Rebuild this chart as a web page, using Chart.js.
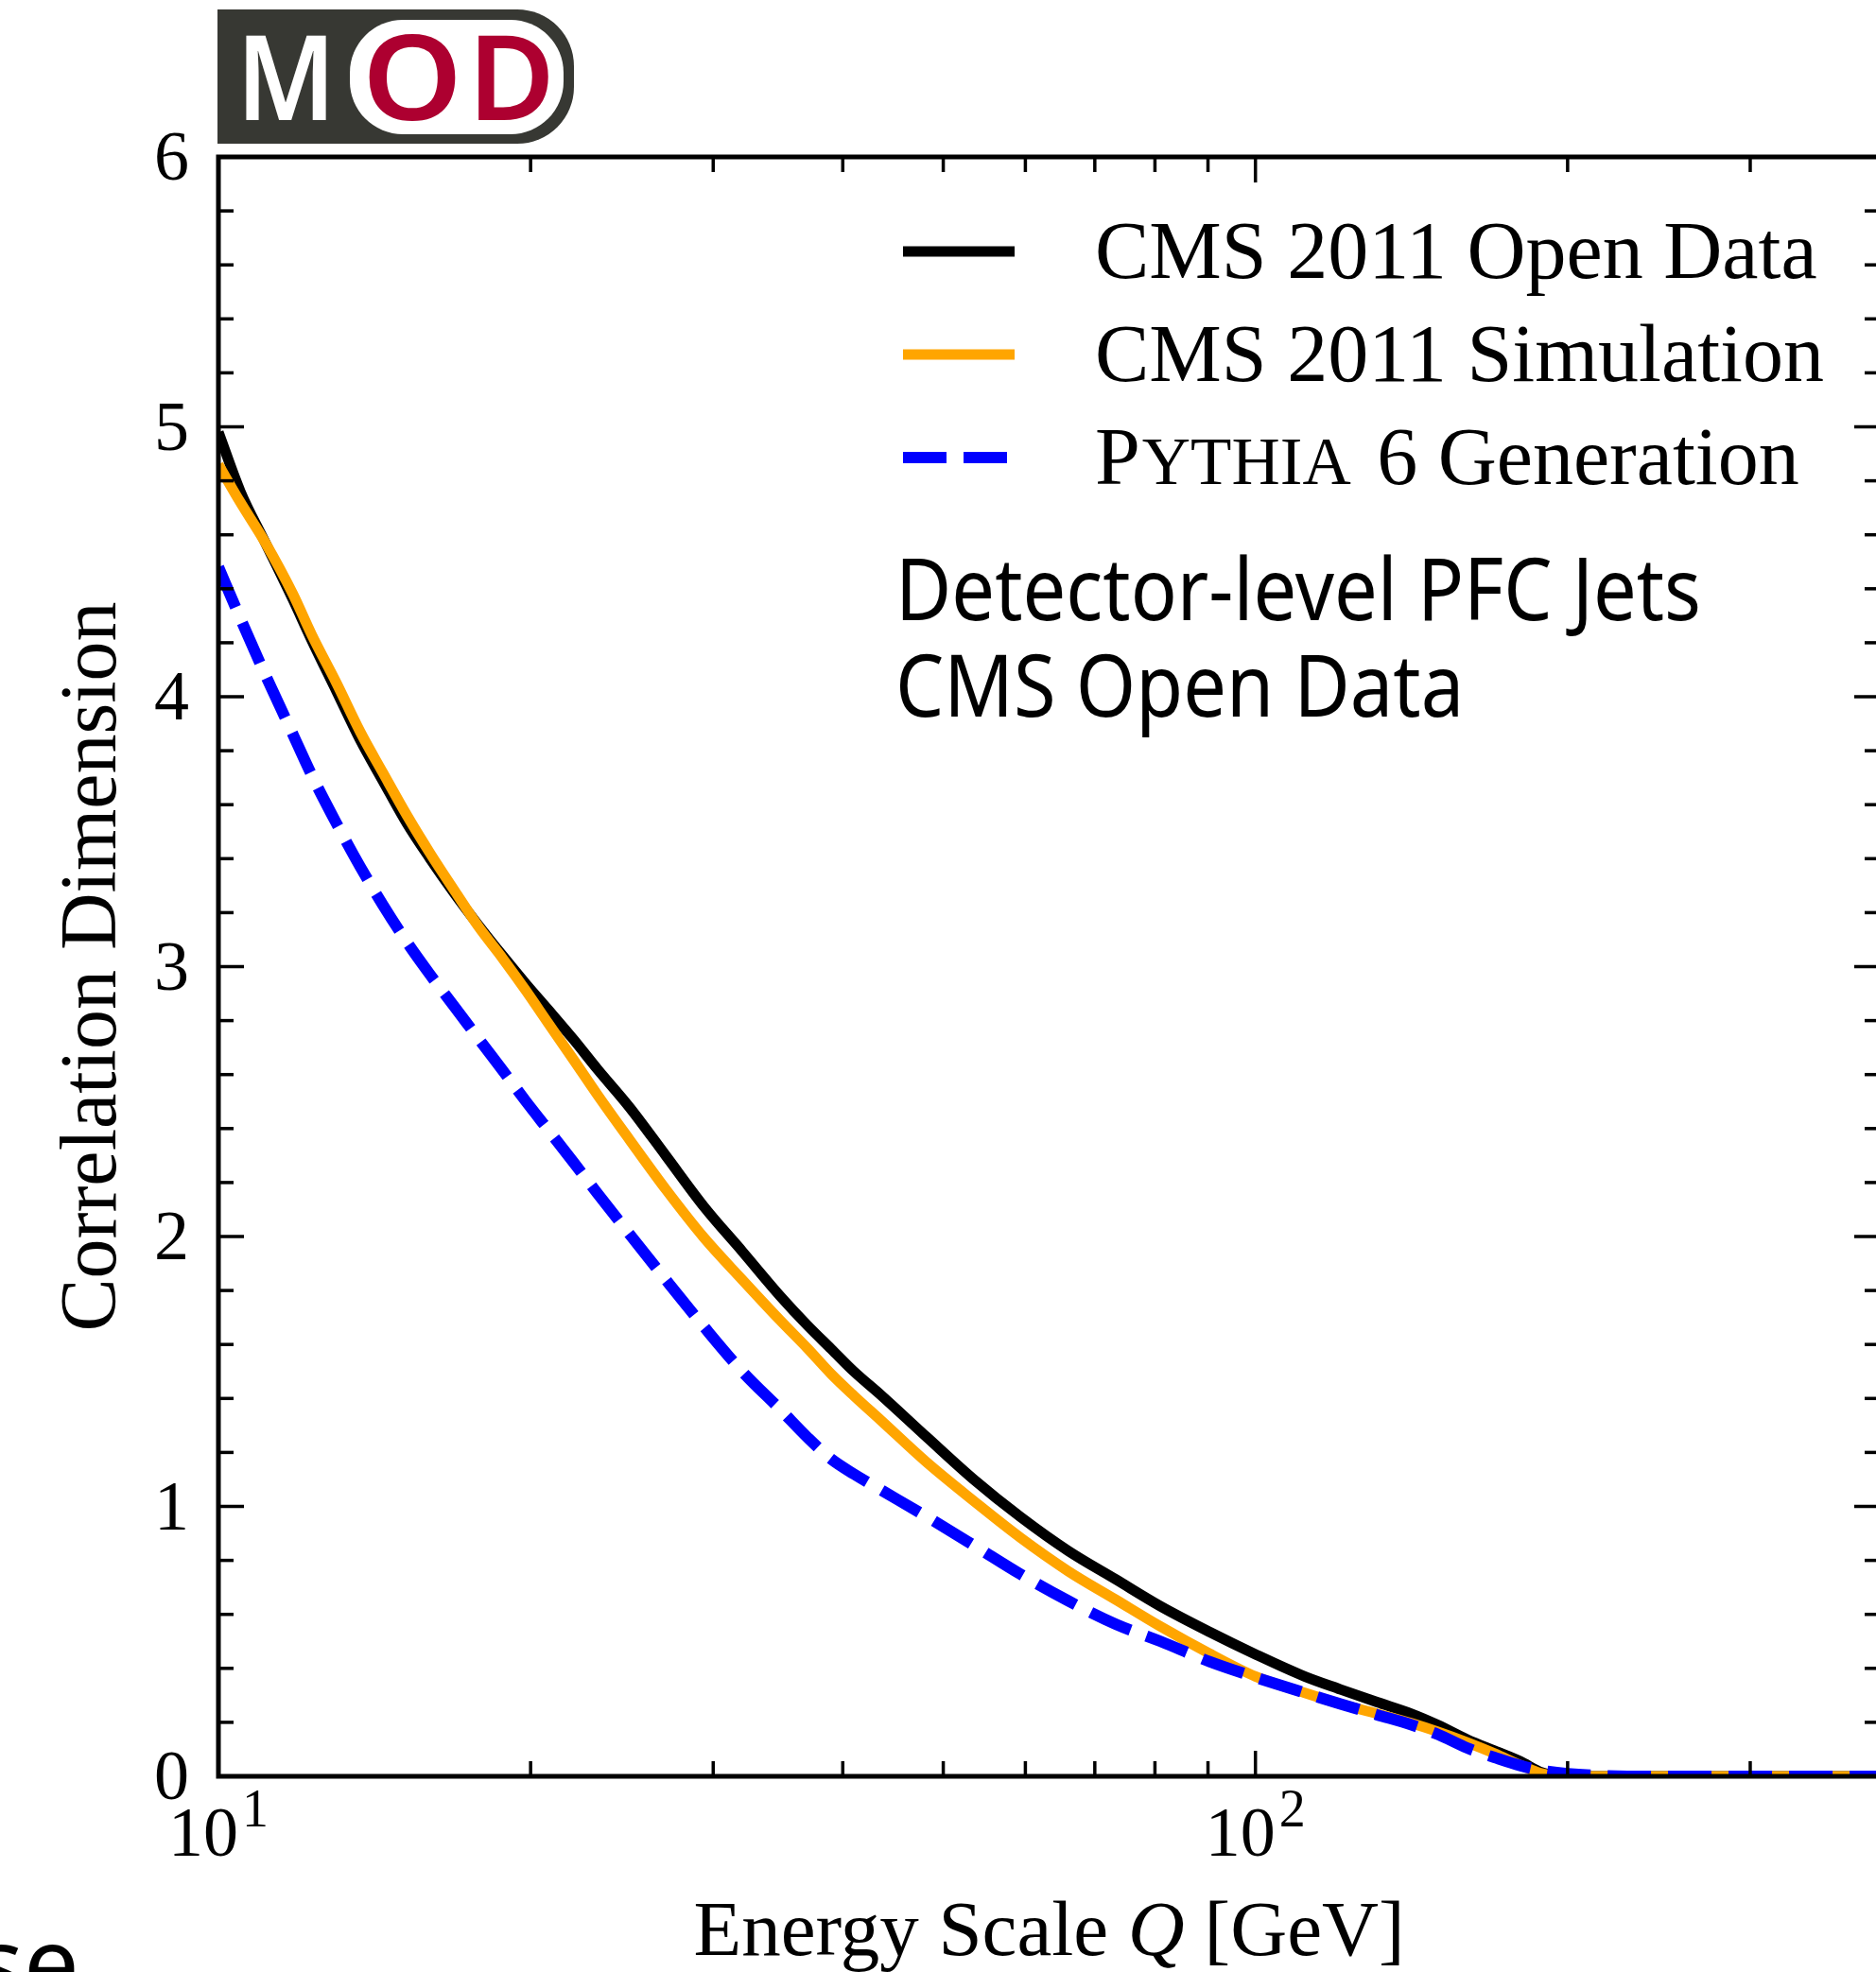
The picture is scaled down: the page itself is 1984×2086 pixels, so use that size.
<!DOCTYPE html>
<html lang="en">
<head>
<meta charset="UTF-8">
<title>Correlation Dimension vs Energy Scale</title>
<script src="https://cdn.jsdelivr.net/npm/chart.js@4.4.1/dist/chart.umd.min.js"></script>
<style>
    html, body { margin: 0; padding: 0; background: #fff; overflow: hidden; }
    #wrap { position: absolute; left: 0; top: 0; width: 1992px; height: 2086px; }
</style>
</head>
<body>
<div id="wrap"><canvas id="chart" width="1992" height="2086"></canvas></div>
<script>
// Energy scale Q [GeV], shared by all three curves
const energyQ = [10, 10.5, 11.1, 11.8, 12.3, 13.0, 13.7, 14.4, 15.2, 16.0, 16.9, 17.8, 18.8, 19.8, 20.8, 22.0,
    23.2, 24.9, 27.0, 29.4, 32.0, 34.8, 37.0, 39.0, 41.0, 43.5, 48.2, 53.5, 59.4, 66.0, 73.3, 81.0, 90.3, 100,
    111.4, 120.8, 131, 141.6, 150, 160, 170, 180, 189, 200, 215, 240, 300, 400];

const openData = [4.98, 4.76, 4.57, 4.36, 4.21, 4.02, 3.84, 3.69, 3.53, 3.40, 3.27, 3.155, 3.04, 2.935, 2.84, 2.73,
    2.62, 2.48, 2.30, 2.11, 1.945, 1.78, 1.67, 1.583, 1.50, 1.414, 1.257, 1.10, 0.96, 0.835, 0.73, 0.63, 0.535, 0.452,
    0.371, 0.322, 0.275, 0.231, 0.19, 0.137, 0.095, 0.056, 0.014, 0, 0, 0, 0, 0];

const simulation = [4.86, 4.72, 4.57, 4.38, 4.23, 4.05, 3.87, 3.72, 3.56, 3.42, 3.28, 3.15, 3.03, 2.91, 2.79, 2.655,
    2.525, 2.36, 2.175, 1.995, 1.84, 1.69, 1.585, 1.49, 1.41, 1.32, 1.163, 1.02, 0.883, 0.76, 0.655, 0.555, 0.455, 0.37,
    0.31, 0.268, 0.232, 0.196, 0.165, 0.126, 0.085, 0.042, 0.01, 0, 0, 0, 0, 0];

const pythia = [4.48, 4.29, 4.08, 3.86, 3.71, 3.53, 3.37, 3.23, 3.09, 2.97, 2.85, 2.735, 2.615, 2.50, 2.395, 2.275,
    2.16, 2.01, 1.84, 1.665, 1.50, 1.36, 1.255, 1.175, 1.12, 1.062, 0.962, 0.856, 0.748, 0.65, 0.564, 0.50, 0.425, 0.367,
    0.31, 0.268, 0.228, 0.19, 0.155, 0.105, 0.07, 0.04, 0.022, 0.01, 0.003, 0, 0, 0];

const seriesLabels = ['CMS 2011 Open Data', 'CMS 2011 Simulation', 'Pythia 6 Generation'];

// axis ticks
const xMajorTicks = [10, 100];
const xMinorTicks = [20, 30, 40, 50, 60, 70, 80, 90, 200, 300];
const xTickBase = ['10', '10'];
const xTickExp = ['1', '2'];
const yMajorTicks = [0, 1, 2, 3, 4, 5, 6];
const yMinorTicks = [0.2, 0.4, 0.6, 0.8, 1.2, 1.4, 1.6, 1.8, 2.2, 2.4, 2.6, 2.8, 3.2, 3.4, 3.6, 3.8,
    4.2, 4.4, 4.6, 4.8, 5.2, 5.4, 5.6, 5.8];
const yTickLabels = ['0', '1', '2', '3', '4', '5', '6'];

const xTitle = ['Energy Scale ', 'Q', ' [GeV]'];
const yTitle = 'Correlation Dimension';
const noteLines = ['Detector-level PFC Jets', 'CMS Open Data'];

const SERIF = '"Liberation Serif", "DejaVu Serif", serif';
const SANS = '"Noto Sans", "Open Sans", sans-serif';

function points(values) {
    return energyQ.map((q, i) => ({ x: q, y: values[i] }));
}

const decorations = {
    id: 'decorations',
    afterDatasetsDraw(chart) {
        const { ctx, chartArea: a, scales: { x, y } } = chart;
        const MAJOR = 27, MINOR = 16;
        ctx.save();
        ctx.strokeStyle = '#000';
        ctx.lineCap = 'butt';
        ctx.lineWidth = 3.5;
        const seg = (x1, y1, x2, y2) => { ctx.beginPath(); ctx.moveTo(x1, y1); ctx.lineTo(x2, y2); ctx.stroke(); };

        // inward ticks on all four sides
        const xTicks = (vals, len) => vals.forEach(v => {
            const px = x.getPixelForValue(v);
            seg(px, a.bottom, px, a.bottom - len);
            seg(px, a.top, px, a.top + len);
        });
        const yTicks = (vals, len) => vals.forEach(v => {
            const py = y.getPixelForValue(v);
            seg(a.left, py, a.left + len, py);
            seg(a.right, py, a.right - len, py);
        });
        xTicks(xMajorTicks, MAJOR);
        xTicks(xMinorTicks, MINOR);
        yTicks(yMajorTicks, MAJOR);
        yTicks(yMinorTicks, MINOR);

        ctx.lineWidth = 5;
        ctx.strokeRect(a.left, a.top, a.right - a.left, a.bottom - a.top);
        ctx.restore();
    },
    afterDraw(chart) {
        const { ctx, chartArea: a, scales: { x, y } } = chart;
        ctx.save();
        ctx.fillStyle = '#000';
        ctx.textBaseline = 'alphabetic';

        // y tick labels
        const tickSize = 74;
        ctx.font = tickSize + 'px ' + SERIF;
        ctx.textAlign = 'right';
        yMajorTicks.forEach((v, i) => {
            ctx.fillText(yTickLabels[i], a.left - 31, y.getPixelForValue(v) + tickSize * 0.33);
        });

        // x tick labels: 10^n
        ctx.textAlign = 'left';
        const expSize = 56;
        xMajorTicks.forEach((v, i) => {
            const px = x.getPixelForValue(v);
            ctx.font = tickSize + 'px ' + SERIF;
            const wb = ctx.measureText(xTickBase[i]).width;
            ctx.font = expSize + 'px ' + SERIF;
            const we = ctx.measureText(xTickExp[i]).width;
            const left = px - (wb + we + 4) / 2;
            ctx.font = tickSize + 'px ' + SERIF;
            ctx.fillText(xTickBase[i], left, 1963);
            ctx.font = expSize + 'px ' + SERIF;
            ctx.fillText(xTickExp[i], left + wb + 4, 1932);
        });

        // x title with italic Q
        const tSize = 83;
        const fonts = [tSize + 'px ' + SERIF, 'italic ' + tSize + 'px ' + SERIF, tSize + 'px ' + SERIF];
        const widths = xTitle.map((t, i) => { ctx.font = fonts[i]; return ctx.measureText(t).width; });
        let cx = (a.left + a.right) / 2 - widths.reduce((s, w) => s + w, 0) / 2;
        xTitle.forEach((t, i) => { ctx.font = fonts[i]; ctx.fillText(t, cx, 2068); cx += widths[i]; });

        // y title (rotated)
        ctx.save();
        ctx.translate(122, (a.top + a.bottom) / 2);
        ctx.rotate(-Math.PI / 2);
        ctx.textAlign = 'center';
        ctx.font = '84px ' + SERIF;
        ctx.fillText(yTitle, 0, 0);
        ctx.restore();

        // legend
        const rowBase = [294, 403, 512];
        const legSize = 86;
        chart.data.datasets.forEach((ds, i) => {
            const ly = rowBase[i] - 28;
            ctx.save();
            ctx.strokeStyle = ds.borderColor;
            ctx.lineWidth = ds.borderWidth;
            ctx.setLineDash(ds.borderDash || []);
            ctx.beginPath();
            ctx.moveTo(955, ly);
            ctx.lineTo(1073, ly);
            ctx.stroke();
            ctx.restore();
            ctx.textAlign = 'left';
            if (i === 2) {
                // small caps "Pythia"
                let lx = 1158;
                ctx.font = legSize + 'px ' + SERIF;
                ctx.fillText('P', lx, rowBase[i]);
                lx += ctx.measureText('P').width + 2;
                ctx.font = Math.round(legSize * 0.82) + 'px ' + SERIF;
                ctx.fillText('YTHIA', lx, rowBase[i]);
                lx += ctx.measureText('YTHIA').width;
                ctx.font = legSize + 'px ' + SERIF;
                ctx.fillText(' 6 Generation', lx + 6, rowBase[i]);
            } else {
                ctx.font = legSize + 'px ' + SERIF;
                ctx.fillText(ds.label, 1158, rowBase[i]);
            }
        });

        // annotation in sans
        ctx.font = '92px ' + SANS;
        const sx = 852 / ctx.measureText(noteLines[0]).width;
        [656, 758].forEach((by, i) => {
            ctx.save();
            ctx.translate(947, by);
            ctx.scale(sx, 1);
            ctx.fillText(noteLines[i], 0, 0);
            ctx.restore();
        });

        // MOD logo
        ctx.fillStyle = '#373833';
        ctx.beginPath();
        ctx.roundRect(230, 10, 377, 142, [0, 60, 60, 0]);
        ctx.fill();
        ctx.fillStyle = '#fff';
        ctx.beginPath();
        ctx.roundRect(370, 21, 226, 121, 56);
        ctx.fill();
        const logoLetter = (ch, left, width, color) => {
            ctx.font = '600 124px ' + SANS;
            const w = ctx.measureText(ch).width;
            ctx.save();
            ctx.fillStyle = color;
            ctx.translate(left, 127);
            ctx.scale(width / w, 1);
            ctx.fillText(ch, 0, 0);
            ctx.restore();
        };
        logoLetter('M', 250, 105, '#fff');
        logoLetter('O', 383, 106, '#ad0030');
        logoLetter('D', 495, 92, '#ad0030');

        // stray slide text at the bottom-left corner
        ctx.fillStyle = '#000';
        ctx.font = '104px ' + SANS;
        const ws = ctx.measureText('s').width;
        ctx.fillText('se', 25 - ws, 2114);
        ctx.restore();
    }
};

new Chart(document.getElementById('chart'), {
    type: 'line',
    data: {
        datasets: [
            {
                label: seriesLabels[0],
                data: points(openData),
                borderColor: '#000000',
                borderWidth: 11,
                order: 3
            },
            {
                label: seriesLabels[1],
                data: points(simulation),
                borderColor: '#ffa500',
                borderWidth: 11,
                order: 2
            },
            {
                label: seriesLabels[2],
                data: points(pythia),
                borderColor: '#0000ff',
                borderWidth: 12,
                borderDash: [46, 18],
                borderCapStyle: 'butt',
                order: 1
            }
        ]
    },
    options: {
        responsive: false,
        animation: false,
        devicePixelRatio: 1,
        layout: { padding: { left: 231, top: 166, right: 4, bottom: 207 } },
        elements: {
            point: { radius: 0 },
            line: { cubicInterpolationMode: 'monotone', fill: false }
        },
        plugins: { legend: { display: false }, tooltip: { enabled: false } },
        scales: {
            x: { type: 'logarithmic', min: 10, max: 400, display: false },
            y: { type: 'linear', min: 0, max: 6, display: false }
        }
    },
    plugins: [decorations]
});
</script>
</body>
</html>
